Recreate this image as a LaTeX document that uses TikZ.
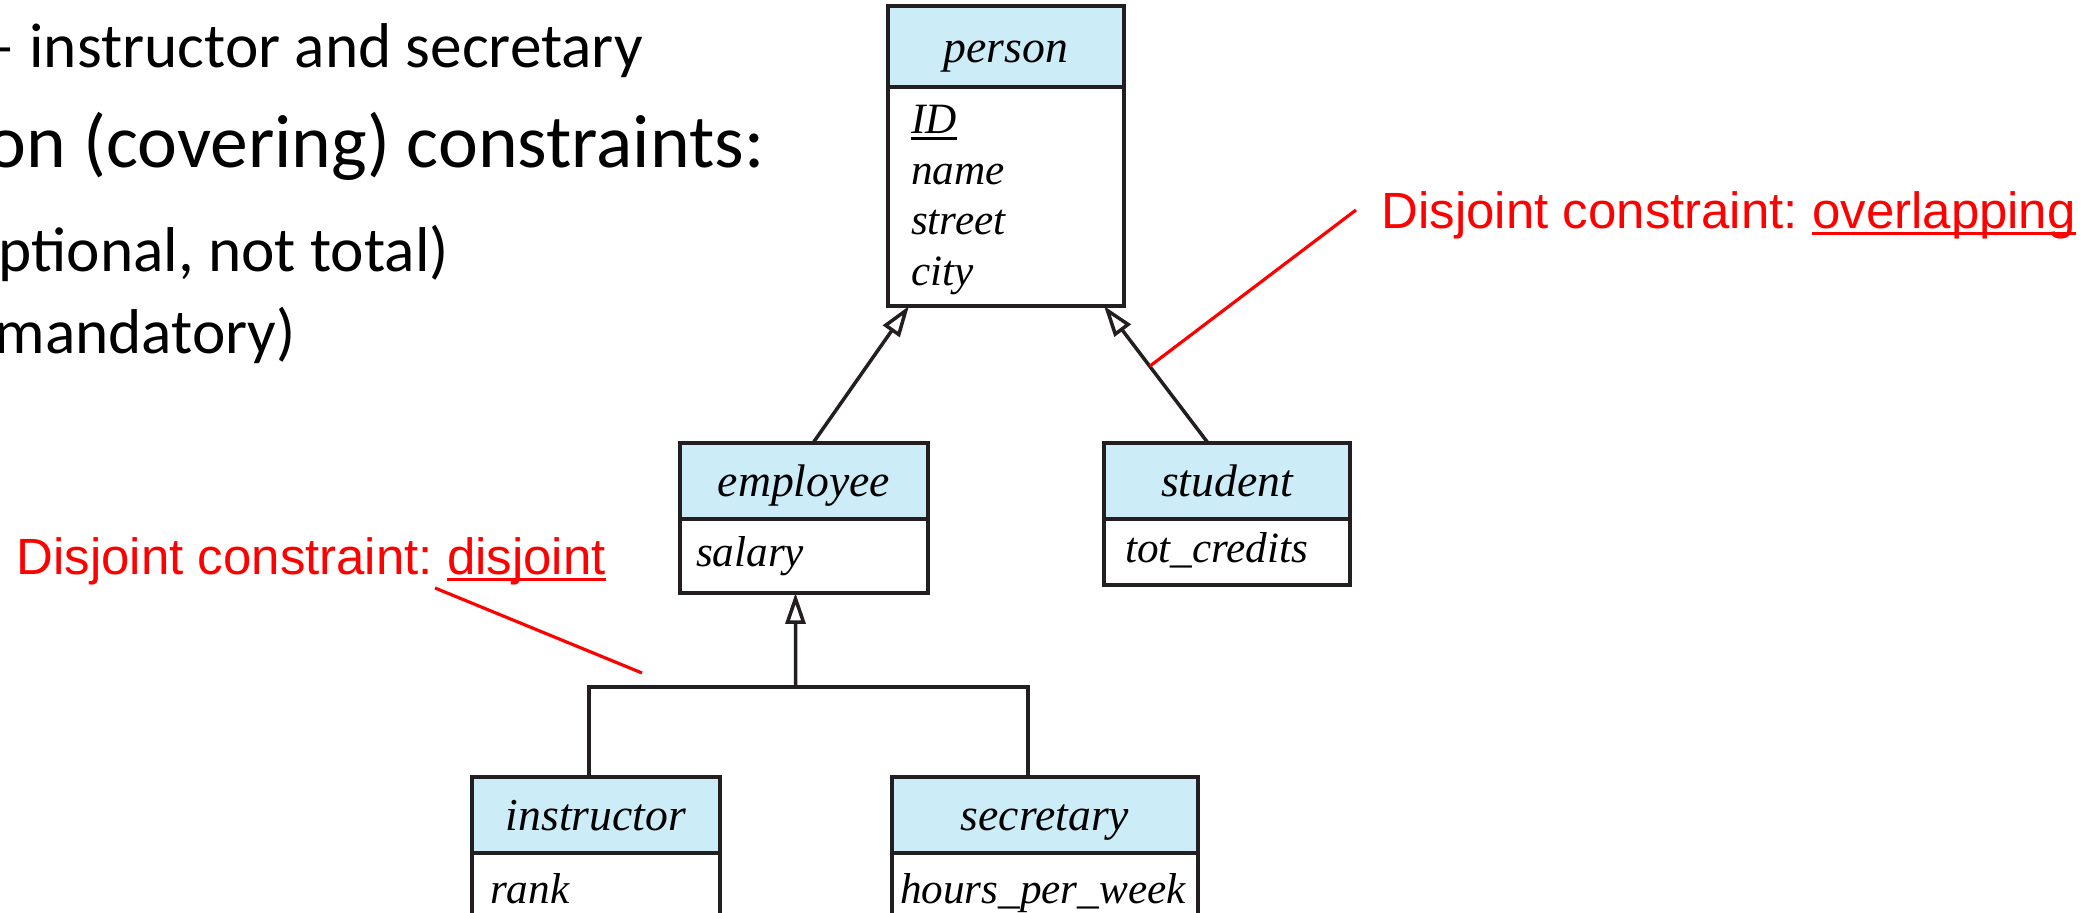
\documentclass[tikz,border=0pt]{standalone}
\usepackage{fontspec}
\setmainfont{Carlito}
\newfontfamily\erfont{Liberation Serif}
\newfontfamily\handfont{Liberation Sans}
\usepackage{tikz}
\usetikzlibrary{positioning,arrows.meta,calc}
\definecolor{cHdr}{HTML}{CCECF8}
\definecolor{cInk}{HTML}{231F20}
\definecolor{cNote}{HTML}{FF0000}
\frenchspacing
\newcommand{\undl}[1]{\setbox0\hbox{#1}\rlap{\rule[-0.06cm]{\wd0}{0.03cm}}\box0}

\begin{document}
\begin{tikzpicture}[x=1cm,y=1cm]
  \tikzset{
    slide/.style={anchor=base west, inner sep=0, font=\fontsize{18}{21}\selectfont},
    ent/.style={draw=cInk, line width=1.15pt, fill=cHdr, inner sep=0, outer sep=0,
      minimum height=0.76cm, text height=0.42cm, text depth=0.10cm,
      font=\erfont\itshape\fontsize{13}{15}\selectfont},
    attrs/.style={draw=cInk, line width=1.15pt, fill=white, outer sep=0,
      inner xsep=0.18cm, inner ysep=0.07cm, align=left,
      font=\erfont\itshape\fontsize{12.3}{14.4}\selectfont, execute at begin node=\strut},
    link/.style={draw=cInk, line width=1pt},
    isa/.style={link, -{Triangle[open, length=0.31cm, width=0.20cm]}},
    note/.style={anchor=base west, inner sep=0, text=cNote,
      font=\handfont\fontsize{14.5}{17}\selectfont},
    callout/.style={draw=cNote, line width=0.9pt},
  }
  \useasboundingbox (0,0) rectangle (20.90,9.13);
  % slide text, cut at the left edge
  \node[slide] (line-a) at (-0.17,8.45) {– instructor and secretary};
  \node[slide, font=\fontsize{21.5}{25}\selectfont] (line-b) at (-0.14,7.45) {on (covering) constraints:};
  \node[slide] (line-c) at (-0.02,6.41) {ptional, not total)};
  \node[slide] (line-d) at (-0.06,5.59) {mandatory)};
  % superclass
  \node[ent, minimum width=2.36cm, minimum height=0.81cm] (person) at (10.06,8.665) {person};
  \node[attrs, inner xsep=0.23cm, text width=1.90cm, minimum height=2.19cm, below=0pt of person] (person-att)
    {\undl{ID}\\name\\street\\city};
  % first level
  \node[ent, minimum width=2.48cm] (employee) at (8.04,4.32) {employee};
  \node[attrs, inner xsep=0.16cm, text width=2.16cm, minimum height=0.74cm, below=0pt of employee] (employee-att) {salary};
  \node[ent, minimum width=2.46cm] (student) at (12.27,4.32) {student};
  \node[attrs, inner xsep=0.21cm, text width=2.04cm, minimum height=0.66cm, below=0pt of student] (student-att) {tot\_credits};
  % second level
  \node[ent, minimum width=2.48cm] (instructor) at (5.96,0.98) {instructor};
  \node[attrs, text width=2.12cm, minimum height=0.8cm, below=0pt of instructor] (instructor-att) {rank};
  \node[ent, minimum width=3.06cm] (secretary) at (10.45,0.98) {secretary};
  \node[attrs, inner xsep=0.08cm, text width=2.90cm, minimum height=0.8cm, below=0pt of secretary]
    (secretary-att) {hours\_per\_week};
  % generalization arrows
  \draw[isa] ([xshift=0.09cm]employee.north) -- ([xshift=-0.97cm]person-att.south);
  \draw[isa] ([xshift=-0.19cm]student.north) -- ([xshift=0.98cm]person-att.south);
  \coordinate (fork) at (7.955,2.26);
  \draw[isa] (fork) -- ([xshift=-0.085cm]employee-att.south);
  \draw[link] ([xshift=-0.07cm]instructor.north) |- (fork) -| ([xshift=-0.17cm]secretary.north);
  % red notes
  \node[note] (ovlnote) at (13.81,6.84) {Disjoint constraint: \undl{overlapping}};
  \node[note] (disjnote) at (0.16,3.38) {Disjoint constraint: \undl{disjoint}};
  \coordinate (ovl) at (11.50,5.47);
  \coordinate (disj) at (6.42,2.40);
  \draw[callout] (ovl) -- ([xshift=-0.25cm,yshift=0.19cm]ovlnote.base west);
  \draw[callout] ([xshift=4.19cm,yshift=-0.13cm]disjnote.base west) -- (disj);
\end{tikzpicture}
\end{document}
